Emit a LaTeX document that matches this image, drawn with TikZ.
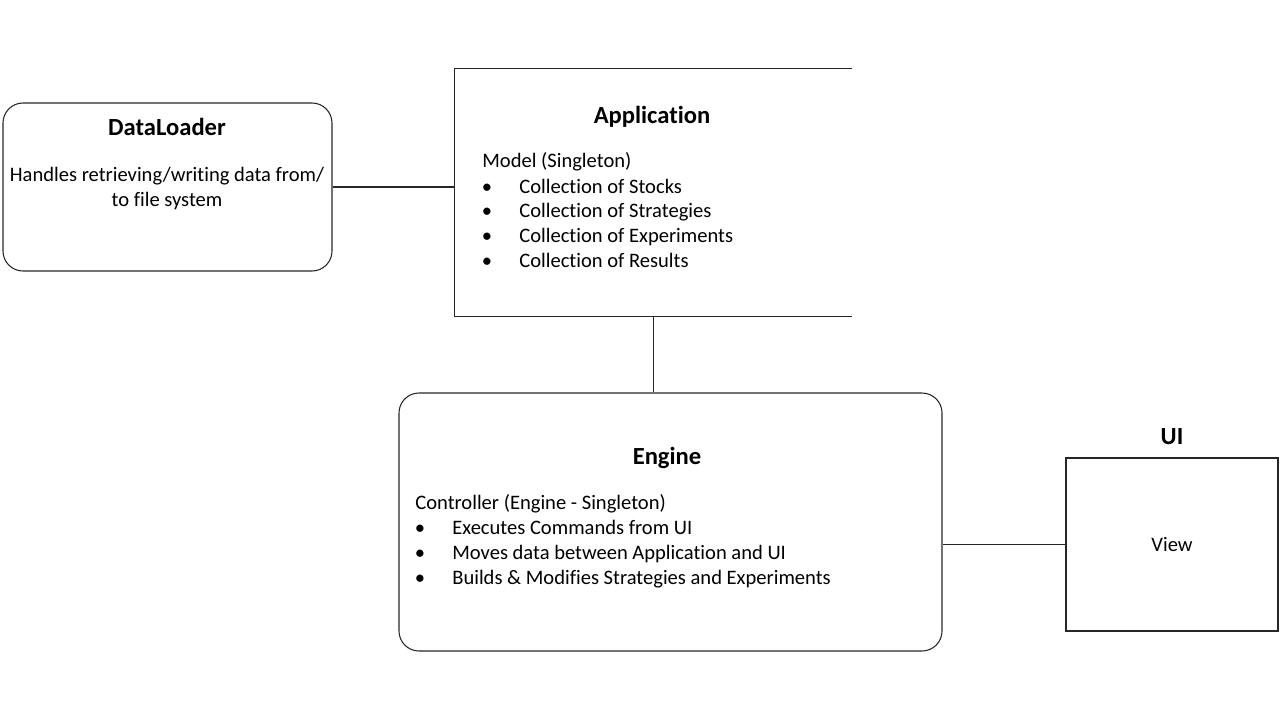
\documentclass[tikz,border=0pt]{standalone}
\usepackage{fontspec}
\setmainfont[Ligatures=NoCommon]{Carlito}
\tikzset{
  boxline/.style={draw=black!85, line width=0.6pt},
  title/.style={font=\fontsize{14}{16}\selectfont\bfseries, anchor=base},
  body/.style={font=\fontsize{11.7}{14}\selectfont, inner sep=0pt, anchor=base west},
}
\begin{document}
\begin{tikzpicture}[x=0.02cm, y=-0.02cm]
			\useasboundingbox (0,0) rectangle (1280,720);
			% boxes
			\node[boxline, rounded corners=0.4cm, minimum width=329*0.02cm, minimum height=168*0.02cm] (dl) at (167.5,187) {};
			\node[minimum width=397*0.02cm, minimum height=247*0.02cm, inner sep=0pt] (app) at (653.5,192.5) {};
			\draw[boxline] (app.north east) -- (app.north west) -- (app.south west) -- (app.south east);
			\node[boxline, rounded corners=0.4cm, minimum width=543*0.02cm, minimum height=258*0.02cm] (eng) at (670.5,522) {};
			\node[boxline, minimum width=212*0.02cm, minimum height=173*0.02cm] (ui) at (1172,544.5) {};
			% connectors
			\draw[boxline] (dl.east) -- (dl.east -| app.west);
			\draw[boxline] (app.south) -- (app.south |- eng.north);
			\draw[boxline] (ui.west) -- (ui.west -| eng.east);
			% titles
			\node[title] (dlT) at (167,135) {DataLoader};
			\node[title] (appT) at (652,123) {Application};
			\node[title] (engT) at (667,464) {Engine};
			\node[title] (uiT) at (1172,444) {UI};
			% texts
			\node[body, anchor=base] (dl1) at (167,181) {Handles retrieving/writing data from/};
			\node[body, anchor=base] (dl2) at (167,206) {to file system};
			\node[body] (appM) at (482,167) {Model (Singleton)};
			\foreach \t [count=\i] in {Stocks,Strategies,Experiments,Results} {
				\node[body, anchor=base] (appB\i) at (487,168.5+\i*24.7) {\textbullet};
				\node[body] (appL\i) at (519,168.5+\i*24.7) {Collection of \t};
			}
			\node[body] (engM) at (415,509) {Controller (Engine - Singleton)};
			\foreach \t [count=\i] in {Executes Commands from UI,Moves data between Application and UI,Builds \& Modifies Strategies and Experiments} {
				\node[body, anchor=base] (engB\i) at (420,509+\i*25) {\textbullet};
				\node[body] (engL\i) at (452,509+\i*25) {\t};
			}
			\node[body, anchor=base] (uiV) at (1172,551) {View};
		\end{tikzpicture}
\end{document}
